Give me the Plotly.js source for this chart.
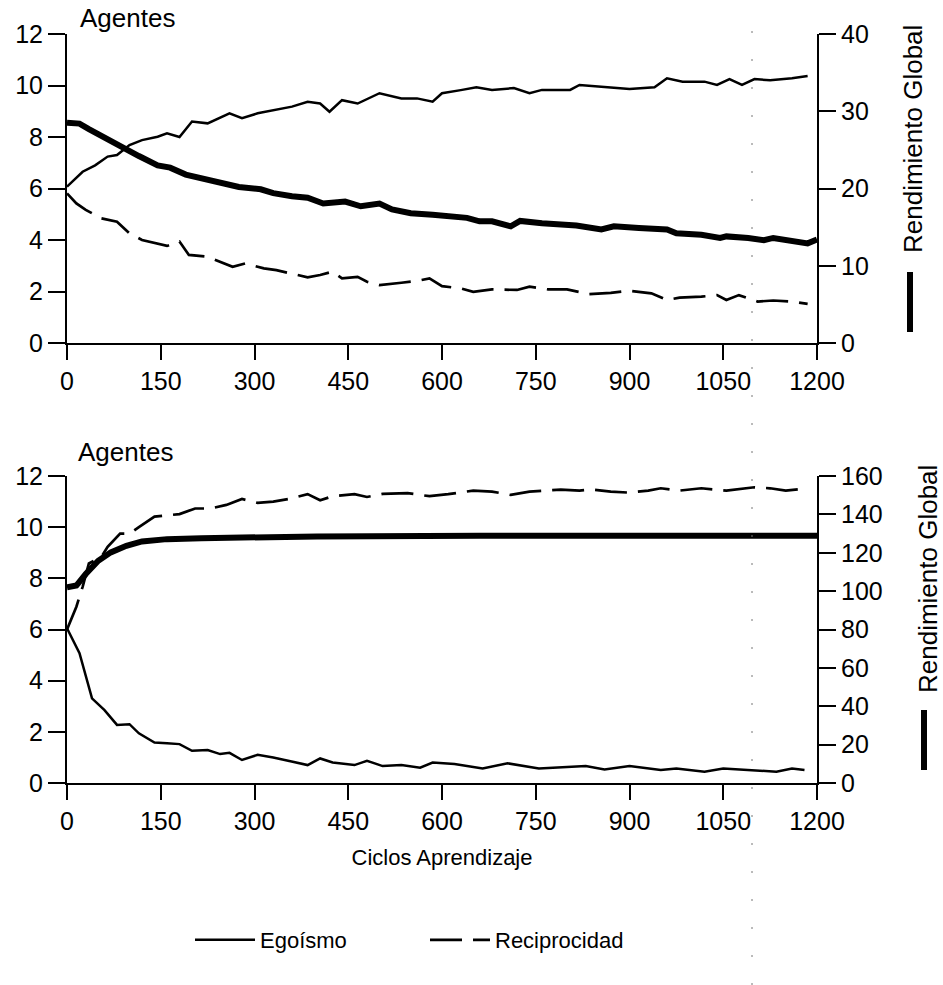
<!DOCTYPE html>
<html>
<head>
<meta charset="utf-8">
<script src="https://cdn.plot.ly/plotly-3.0.1.min.js"></script>
<style>html,body{margin:0;padding:0;background:#fff;}#chart{width:943px;height:985px;}</style>
</head>
<body>
<div id="chart"></div>
<script>
// ---------- Data ----------
const xTicks = [0, 150, 300, 450, 600, 750, 900, 1050, 1200];
const seriesNames = ["Egoísmo", "Reciprocidad", "Rendimiento Global"];

// Top panel
const topEgoX = [0,25,45,65,80,100,120,145,160,180,200,225,260,280,305,330,360,385,405,420,440,465,500,535,560,585,600,630,655,680,715,740,760,805,820,865,900,940,960,985,1020,1040,1060,1080,1100,1125,1160,1185];
const topEgoY = [6.07,6.65,6.9,7.24,7.3,7.69,7.88,8.01,8.14,8.0,8.6,8.53,8.92,8.73,8.92,9.05,9.18,9.37,9.3,8.98,9.43,9.3,9.7,9.5,9.5,9.37,9.7,9.82,9.93,9.83,9.9,9.7,9.83,9.83,10.02,9.93,9.86,9.93,10.28,10.15,10.15,10.02,10.25,10.02,10.25,10.2,10.28,10.37];

const topRecX = [0,15,30,55,80,100,120,145,160,180,195,225,245,265,285,315,335,360,385,405,425,440,465,480,500,535,560,580,600,630,650,680,720,740,770,800,835,870,900,935,960,980,1015,1040,1055,1075,1105,1130,1160,1185];
const topRecY = [5.81,5.42,5.17,4.84,4.71,4.26,4.0,3.87,3.77,3.94,3.42,3.35,3.15,2.96,3.09,2.9,2.83,2.7,2.55,2.64,2.77,2.51,2.57,2.38,2.25,2.34,2.41,2.51,2.21,2.12,1.99,2.08,2.06,2.19,2.08,2.08,1.9,1.95,2.03,1.93,1.67,1.76,1.8,1.86,1.67,1.86,1.61,1.65,1.61,1.52];

const topRendX = [0,20,35,55,75,95,115,145,165,190,225,250,275,310,330,360,385,410,445,470,500,520,550,585,620,640,660,680,710,725,760,815,855,875,915,960,975,1015,1045,1055,1090,1115,1130,1160,1185,1200];
const topRendY = [28.5,28.4,27.7,26.8,26.1,25.1,24.2,23.0,22.7,21.8,21.2,20.7,20.2,19.9,19.4,19.0,18.8,18.05,18.3,17.7,18.05,17.3,16.8,16.6,16.3,16.2,15.75,15.75,15.1,15.8,15.5,15.2,14.7,15.1,14.9,14.7,14.2,14.0,13.6,13.8,13.6,13.3,13.6,13.3,12.9,13.4];

// Bottom panel
const botEgoX = [0,20,40,60,80,100,115,140,160,180,200,225,245,260,280,305,330,355,385,405,425,460,480,505,535,565,585,620,665,705,755,830,860,900,950,975,1020,1050,1095,1135,1160,1180];
const botEgoY = [6.05,5.07,3.31,2.85,2.27,2.3,1.94,1.58,1.55,1.52,1.26,1.29,1.13,1.18,0.9,1.1,1.0,0.87,0.7,0.96,0.8,0.7,0.87,0.66,0.7,0.6,0.8,0.74,0.57,0.77,0.57,0.66,0.53,0.66,0.51,0.57,0.44,0.57,0.51,0.44,0.57,0.51];

const botRecX = [0,15,25,35,55,65,85,100,115,140,180,205,230,255,280,305,330,355,385,405,425,460,480,505,545,580,610,650,680,710,740,760,790,820,840,870,900,930,950,980,1015,1055,1100,1125,1150,1185];
const botRecY = [6.0,6.89,7.67,8.58,8.84,9.23,9.75,9.75,10.0,10.41,10.51,10.73,10.73,10.87,11.1,10.95,11.0,11.1,11.29,11.05,11.21,11.29,11.18,11.3,11.33,11.21,11.29,11.43,11.39,11.26,11.39,11.43,11.47,11.43,11.47,11.39,11.35,11.43,11.52,11.43,11.52,11.43,11.56,11.52,11.43,11.52];

const botRendX = [0,15,30,50,70,95,120,160,215,320,400,660,900,1200];
const botRendY = [102.0,102.9,108.9,115.8,120.2,123.6,125.9,127.1,127.6,128.3,128.5,128.8,128.8,128.8];

// ---------- Layout geometry ----------
const W = 943, H = 985;
const px = v => v / W;
const py = v => 1 - v / H;
const FONT = "Liberation Sans, Arial, Helvetica, sans-serif";

const thin = {color: "#000", width: 2.5};
const dashed = {color: "#000", width: 2.7, dash: "32px,11px"};
const thick = {color: "#000", width: 6};

const traces = [
  {x: topEgoX, y: topEgoY, xaxis: "x", yaxis: "y", mode: "lines", line: thin, name: seriesNames[0], legendgroup: "ego", showlegend: true},
  {x: topRecX, y: topRecY, xaxis: "x", yaxis: "y", mode: "lines", line: dashed, name: seriesNames[1], legendgroup: "rec", showlegend: true},
  {x: topRendX, y: topRendY, xaxis: "x", yaxis: "y2", mode: "lines", line: thick, name: seriesNames[2], showlegend: false},
  {x: botEgoX, y: botEgoY, xaxis: "x2", yaxis: "y3", mode: "lines", line: thin, name: seriesNames[0], legendgroup: "ego", showlegend: false},
  {x: botRecX, y: botRecY, xaxis: "x2", yaxis: "y3", mode: "lines", line: dashed, name: seriesNames[1], legendgroup: "rec", showlegend: false},
  {x: botRendX, y: botRendY, xaxis: "x2", yaxis: "y4", mode: "lines", line: thick, name: seriesNames[2], showlegend: false}
];

const tickFont = {family: FONT, size: 25, color: "#000"};
const xBase = {
  range: [0, 1200], tickvals: xTicks, ticktext: xTicks.map(String),
  ticks: "outside", ticklen: 15, tickwidth: 2, tickcolor: "#000",
  showline: true, linewidth: 2, linecolor: "#000", showgrid: false, zeroline: false,
  tickfont: tickFont, domain: [px(67), px(817)], fixedrange: true
};
const yLeftBase = {
  range: [0, 12], tickvals: [0,2,4,6,8,10,12],
  ticks: "outside", ticklen: 17, tickwidth: 2, tickcolor: "#000",
  showline: true, linewidth: 2, linecolor: "#000", showgrid: false, zeroline: false,
  tickfont: tickFont, fixedrange: true
};
const yRightBase = {
  side: "right", ticks: "outside", ticklen: 17, tickwidth: 2, tickcolor: "#000",
  showline: true, linewidth: 2, linecolor: "#000", showgrid: false, zeroline: false,
  tickfont: tickFont, fixedrange: true
};

const layout = {
  width: W, height: H,
  margin: {l: 0, r: 0, t: 0, b: 0},
  paper_bgcolor: "#fff", plot_bgcolor: "rgba(0,0,0,0)",
  font: {family: FONT, size: 22, color: "#000"},
  showlegend: true,
  legend: {
    orientation: "h", x: px(190), xanchor: "left", y: py(940), yanchor: "middle",
    font: {family: FONT, size: 22, color: "#000"},
    entrywidth: 160, entrywidthmode: "pixels", itemwidth: 60,
    bgcolor: "rgba(0,0,0,0)"
  },
  xaxis: Object.assign({}, xBase, {anchor: "y"}),
  yaxis: Object.assign({}, yLeftBase, {domain: [py(343), py(34)], anchor: "x"}),
  yaxis2: Object.assign({}, yRightBase, {range: [0, 40], tickvals: [0,10,20,30,40], overlaying: "y", anchor: "x"}),
  xaxis2: Object.assign({}, xBase, {anchor: "y3",
    title: {text: "Ciclos Aprendizaje", font: {family: FONT, size: 22, color: "#000"}, standoff: 16}}),
  yaxis3: Object.assign({}, yLeftBase, {domain: [py(783), py(476)], anchor: "x2"}),
  yaxis4: Object.assign({}, yRightBase, {range: [0, 160], tickvals: [0,20,40,60,80,100,120,140,160], overlaying: "y3", anchor: "x2"}),
  annotations: [
    {text: "Agentes", xref: "paper", yref: "paper", x: px(78), y: py(18), xanchor: "left", yanchor: "middle", showarrow: false, font: {family: FONT, size: 26, color: "#000"}},
    {text: "Agentes", xref: "paper", yref: "paper", x: px(76), y: py(452), xanchor: "left", yanchor: "middle", showarrow: false, font: {family: FONT, size: 26, color: "#000"}},
    {text: "Rendimiento Global", textangle: -90, xref: "paper", yref: "paper", x: px(913), y: py(139), xanchor: "center", yanchor: "middle", showarrow: false, font: {family: FONT, size: 26, color: "#000"}},
    {text: "Rendimiento Global", textangle: -90, xref: "paper", yref: "paper", x: px(928), y: py(579), xanchor: "center", yanchor: "middle", showarrow: false, font: {family: FONT, size: 26, color: "#000"}}
  ],
  shapes: [
    {type: "line", xref: "paper", yref: "paper", x0: px(910), x1: px(910), y0: py(272), y1: py(332), line: {color: "#000", width: 6}},
    {type: "line", xref: "paper", yref: "paper", x0: px(924), x1: px(924), y0: py(710), y1: py(770), line: {color: "#000", width: 6}},
    {type: "line", xref: "paper", yref: "paper", x0: px(752), x1: px(752), y0: 0, y1: py(30), line: {color: "#777", width: 1, dash: "2px,26px"}}
  ]
};

Plotly.newPlot("chart", traces, layout, {displayModeBar: false, staticPlot: true});
</script>
</body>
</html>
